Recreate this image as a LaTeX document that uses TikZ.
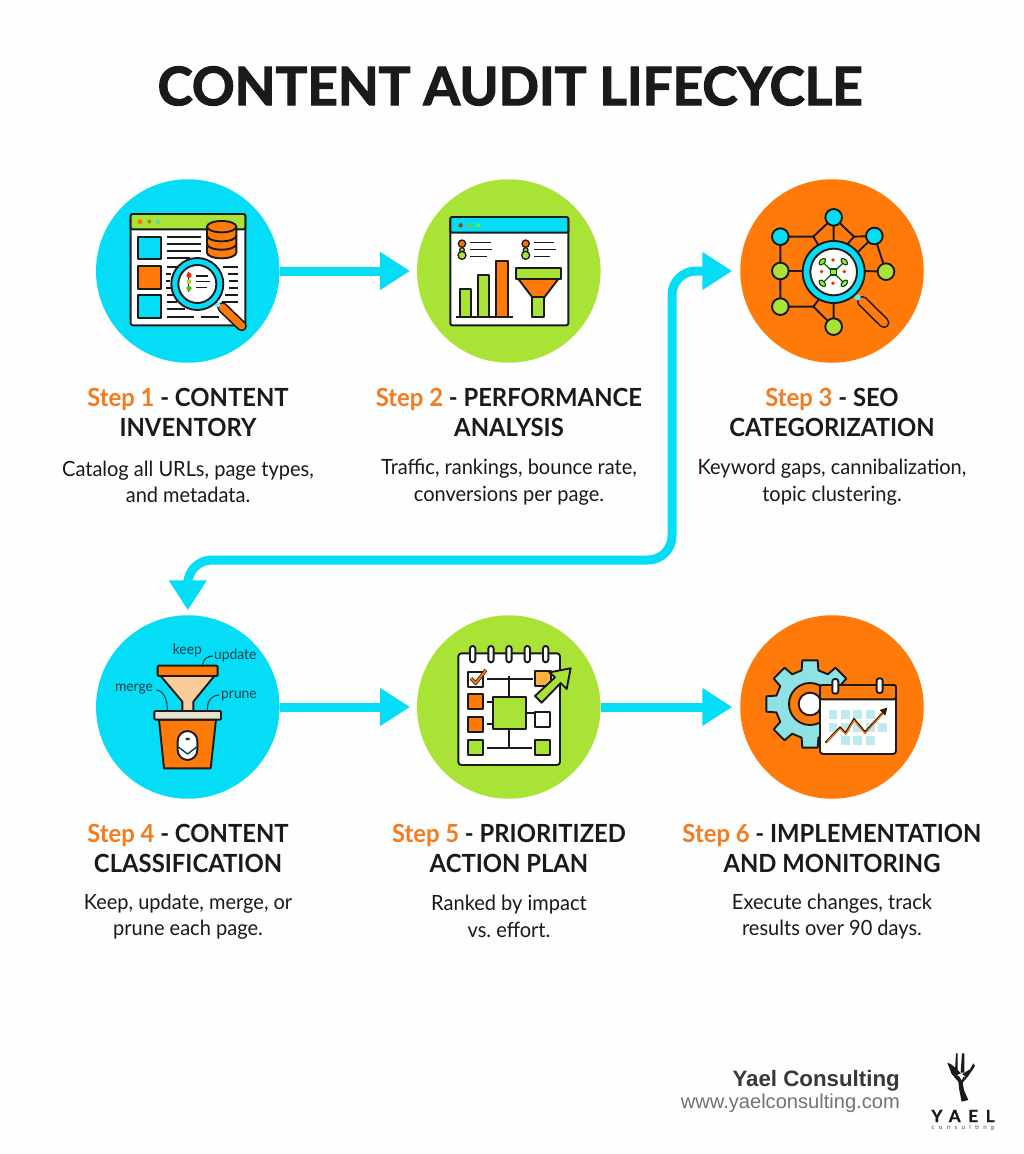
\documentclass[tikz,border=0pt]{standalone}
\usepackage{fontspec}
\usetikzlibrary{arrows.meta,calc}
\setmainfont{Lato}[FakeStretch=0.953]
\newfontfamily\titlefont{Lato}[BoldFeatures={FakeBold=2.2}]
\newfontfamily\footfont{Liberation Sans}
\newfontfamily\logofont[LetterSpace=45,BoldFeatures={FakeBold=1}]{Lato}
\newfontfamily\logosmall[LetterSpace=70]{Lato}
\definecolor{ccyan}{HTML}{05DDF7}
\definecolor{cgreen}{HTML}{A8E336}
\definecolor{corange}{HTML}{FF7A08}
\definecolor{torange}{HTML}{F47C20}
\definecolor{ink}{HTML}{1A1A1A}
\definecolor{peach}{HTML}{FBCB9C}
\definecolor{beige}{HTML}{E9E1D0}
\definecolor{teal}{HTML}{8FE2E4}
\definecolor{lteal}{HTML}{BCEBEF}
\definecolor{amber}{HTML}{FBB13C}
\definecolor{tealdark}{HTML}{0B3F4A}
\tikzset{
  disc/.style={circle,minimum size=183.5pt,inner sep=0pt,outer sep=0pt},
  flow/.style={draw=ccyan,line width=9pt,-{Triangle[length=30pt,width=36pt]}},
  headtext/.style={font=\bfseries\fontsize{25}{30}\selectfont,align=center,text=ink,inner sep=0pt},
  bodytext/.style={font=\fontsize{21}{26.5}\selectfont,align=center,text=ink,inner sep=0pt},
  icon/.style={x=0.3333pt,y=-0.3333pt,line width=1.9pt,draw=ink,line cap=butt,line join=round},
  small label/.style={font=\fontsize{14.5}{16}\selectfont,text=tealdark,inner sep=0pt},
}
\begin{document}
\begin{tikzpicture}[x=1pt,y=-1pt]
\useasboundingbox (0,0) rectangle (1024,1154);
\fill[white!99.5!black] (0,0) rectangle (1024,1154);

\node[font=\titlefont\bfseries\fontsize{53}{57}\selectfont,text=ink,inner sep=0pt] (title) at (510,86) {CONTENT AUDIT LIFECYCLE};

\coordinate (b1) at (672,271);
\coordinate (b2) at (672,560);
\coordinate (b3) at (187.8,560);

\node[disc,fill=ccyan] (c1) at (187.8,271) {};
\node[disc,fill=cgreen] (c2) at (508.8,271) {};
\node[disc,fill=corange] (c3) at (832,271) {};
\node[disc,fill=ccyan] (c4) at (187.8,707) {};
\node[disc,fill=cgreen] (c5) at (508.8,707) {};
\node[disc,fill=corange] (c6) at (832,707) {};

\draw[flow,shorten >=7pt] (c1) -- (c2);
\draw[flow,shorten >=7pt] (c4) -- (c5);
\draw[flow,shorten >=8pt] (c5) -- (c6);
\draw[draw=ccyan,line width=9pt,rounded corners=24pt,{Triangle[length=30pt,width=36pt]}-{Triangle[length=30pt,width=36pt]},shorten >=8pt,shorten <=5pt]
  (c4.north) -- (b3) -- (b2) -- (b1) -- (c3.west);

% ---------- labels
\node[headtext] (h1) at (188,412) {\textcolor{torange}{Step 1} - CONTENT\\INVENTORY};
\node[headtext] (h2) at (509,412) {\textcolor{torange}{Step 2} - PERFORMANCE\\ANALYSIS};
\node[headtext] (h3) at (832,412) {\textcolor{torange}{Step 3} - SEO\\CATEGORIZATION};
\node[bodytext] (t1) at (188,482) {Catalog all URLs, page types,\\and metadata.};
\node[bodytext] (t2) at (509,482) {Traffic, rankings, bounce rate,\\conversions per page.};
\node[bodytext] (t3) at (832,482) {Keyword gaps, cannibalization,\\topic clustering.};
\node[headtext] (h4) at (188,848) {\textcolor{torange}{Step 4} - CONTENT\\CLASSIFICATION};
\node[headtext] (h5) at (509,848) {\textcolor{torange}{Step 5} - PRIORITIZED\\ACTION PLAN};
\node[headtext] (h6) at (832,848) {\textcolor{torange}{Step 6} - IMPLEMENTATION\\AND MONITORING};
\node[bodytext] (t4) at (188,916.5) {Keep, update, merge, or\\prune each page.};
\node[bodytext] (t5) at (509,916.5) {Ranked by impact\\vs.\ effort.};
\node[bodytext] (t6) at (832,916.5) {Execute changes, track\\results over 90 days.};

% ---------- footer
\node[font=\footfont\bfseries\fontsize{22.3}{26}\selectfont,text=black!78,anchor=east,inner sep=0pt] (f1) at (900,1080.5) {Yael Consulting};
\node[font=\footfont\fontsize{20.1}{24}\selectfont,text=black!55,anchor=east,inner sep=0pt] (f2) at (900,1103) {www.yaelconsulting.com};
\node[font=\logofont\bfseries\fontsize{17}{18}\selectfont,text=ink,inner sep=0pt] (f3) at (963,1116) {YAEL};
\node[font=\logosmall\fontsize{6.2}{7}\selectfont,text=black!70,inner sep=0pt] (f4) at (963,1128) {consulting};
\begin{scope}[shift={(660,1040)},x=0.3333pt,y=-0.3333pt]
  \fill[ink] (888,40) -- (893,40) -- (893,95) -- (885,95) -- cycle;
  \fill[ink] (906,40) -- (913,40) -- (913,98) -- (902,98) -- cycle;
  \fill[ink] (862,68) -- (872,72) -- (892,88) -- (905,103) -- (930,88) -- (940,70) -- (945,78) -- (925,108) -- (908,128) -- (912,150) -- (925,180) -- (905,185) -- (898,150) -- (895,125) -- (875,102) -- cycle;
  \fill[white] (892,105) -- (904,100) -- (916,110) -- (904,125) -- cycle;
  \draw[ink,line width=1.2pt] (895,108) -- (905,125) -- (913,110);
\end{scope}

% ---------- icon 1
\begin{scope}[shift={(90,170)},icon]
  \draw[fill=white,rounded corners=2pt] (122,132) rectangle (466,466);
  \draw[fill=cgreen,rounded corners=2pt] (122,178) -- (122,132) -- (466,132) -- (466,178) -- cycle;
  \fill[corange!90!red] (150,155) circle (7);
  \fill[black!35!cgreen!70!orange] (178,155) circle (6);
  \fill[black!10!teal!80!green] (204,155) circle (7);
  \draw[fill=ccyan] (145,200) rectangle (212,268);
  \draw[fill=corange] (145,288) rectangle (212,356);
  \draw[fill=ccyan] (145,376) rectangle (212,444);
  \foreach \xa/\xb/\yy in {230/333/202,230/333/223,230/333/243,230/300/265,230/280/290,400/445/290,415/445/311,418/445/332,418/445/353,405/445/375,395/445/396,228/243/311,228/240/332,228/243/353,232/255/375,230/260/396,230/285/418,230/312/440,333/388/440}
    \draw[line width=1.7pt] (\xa,\yy) -- (\xb,\yy);
  \draw[fill=corange] (351,170) -- (351,248) arc[start angle=180,end angle=0,x radius=44,y radius=17] -- (439,170) -- cycle;
  \draw (351,197) arc[start angle=180,end angle=0,x radius=44,y radius=17];
  \draw (351,222) arc[start angle=180,end angle=0,x radius=44,y radius=17];
  \draw[fill=corange] (395,170) ellipse [x radius=44,y radius=17];
  \draw[line width=10.5pt,line cap=round] (397,412) -- (455,468);
  \draw[corange,line width=7.2pt,line cap=round] (397,412) -- (455,468);
  \fill[white!50!ccyan] (382,403) circle (9);
  \draw[fill=ccyan] (322,342) circle (78);
  \draw[fill=white] (322,342) circle (57);
  \draw[line width=1pt] (297,307) -- (297,365);
  \fill[red!70!orange] (297,316) circle (8);
  \fill[cgreen!80!orange] (297,335) circle (7);
  \fill[cgreen!60!green!80!black] (297,355) circle (8);
  \foreach \xa/\xb/\yy in {318/355/318,318/360/335,318/352/352}
    \draw[line width=1.4pt] (\xa,\yy) -- (\xb,\yy);
\end{scope}

% ---------- icon 2
\begin{scope}[shift={(405,170)},icon]
  \draw[fill=white,rounded corners=2pt] (136,141) rectangle (490,466);
  \draw[fill=ccyan,rounded corners=2pt] (136,188) -- (136,141) -- (490,141) -- (490,188) -- cycle;
  \fill[red!45!black!55!orange] (167,166) circle (6.5);
  \fill[cgreen!85!black] (194,166) circle (6.5);
  \fill[cgreen!60!green] (219,166) circle (6.5);
  \foreach \xx/\la/\lb/\lc in {171/258/262/247,362/448/452/436}{
    \draw[fill=cgreen,line width=1.3pt] (\xx,240) circle (7);
    \draw[fill=corange!85!red,line width=1.3pt] (\xx,221) circle (11);
    \draw[fill=cgreen,line width=1.3pt] (\xx,256) circle (12);
    \draw[line width=1.6pt] (\xx+25,217) -- (\la,217);
    \draw[line width=1.6pt] (\xx+25,239) -- (\lb,239);
    \draw[line width=1.6pt] (\xx+25,260) -- (\lc,260);
  }
  \draw[fill=cgreen] (166,358) rectangle (199,440);
  \draw[fill=cgreen] (219,316) rectangle (253,440);
  \draw[fill=corange] (274,274) rectangle (308,440);
  \draw (154,440) -- (325,440);
  \draw[fill=corange] (340,327) -- (460,327) -- (418,382) -- (382,382) -- cycle;
  \draw[fill=cgreen] (382,382) rectangle (418,440);
  \draw[fill=cgreen] (333,293) rectangle (467,327);
\end{scope}

% ---------- icon 3
\begin{scope}[shift={(730,170)},icon]
  \draw (311,142) -- (250,200) -- (151,200) -- (151,410) -- (250,410) -- (311,470);
  \draw (250,200) -- (265,225) (311,142) -- (311,220) (311,142) -- (372,200) -- (433,198);
  \draw (350,225) -- (372,200) (433,198) -- (385,245) (433,198) -- (468,305) -- (400,303);
  \draw (151,303) -- (220,303) (250,410) -- (265,390) (311,390) -- (311,470);
  \foreach \a/\b in {311/142,151/200,433/198}
    \draw[fill=ccyan] (\a,\b) circle (25);
  \foreach \a/\b in {151/303,468/305,151/410,311/470}
    \draw[fill=cgreen] (\a,\b) circle (25);
  \draw[line width=11pt,line cap=round] (397,394) -- (462,458);
  \draw[corange,line width=7.8pt,line cap=round] (397,394) -- (462,458);
  \fill[white!40!ccyan] (383,382) circle (9);
  \draw[fill=ccyan] (311,306) circle (93);
  \draw[fill=white] (311,306) circle (70);
  \draw[line width=1.3pt,draw=black!60!green] (277,275) -- (343,340) (343,275) -- (277,340);
  \foreach \a/\b/\r in {277/275/45,343/275/-45,277/340/-45,343/340/45}
    \draw[fill=cgreen,draw=black!70!green,line width=1.1pt,rotate around={\r:(\a,\b)}] (\a,\b) ellipse [x radius=12,y radius=7];
  \draw[fill=cgreen,draw=black!70!green,line width=1.3pt] (302,297) rectangle (320,315);
  \foreach \a/\b in {309/270,275/305,343/305,309/340}
    \fill[red!70!orange] (\a,\b) circle (5.5);
\end{scope}

% ---------- icon 4
\begin{scope}[shift={(90,605)},icon]
  \draw[fill=peach] (212,213) -- (373,213) -- (310,290) -- (310,318) -- (277,318) -- (277,290) -- cycle;
  \draw[fill=corange,rounded corners=1pt] (203,182) rectangle (383,213);
  \draw[fill=corange] (207,344) -- (378,344) -- (362,490) -- (222,490) -- cycle;
  \draw[fill=beige,rounded corners=1pt] (193,318) rectangle (393,344);
  \draw[fill=white,rounded corners=10pt] (263,378) rectangle (322,465);
  \fill[tealdark] (293,402) ellipse [x radius=7,y radius=4];
  \draw[line width=1.4pt,draw=tealdark] (265,426) -- (293,447) -- (320,426);
  \draw[line width=1.1pt,line cap=round,draw=tealdark] (338,178) .. controls (342,160) and (350,155) .. (368,153);
  \draw[line width=1.1pt,line cap=round,draw=tealdark] (200,255) .. controls (222,258) and (232,285) .. (232,315);
  \draw[line width=1.1pt,line cap=round,draw=tealdark] (352,315) .. controls (352,285) and (365,272) .. (387,270);
  \node[small label] (l1) at (292,137) {keep};
  \node[small label] (l2) at (436,151) {update};
  \node[small label] (l3) at (132,252) {merge};
  \node[small label] (l4) at (447,272) {prune};
\end{scope}

% ---------- icon 5
\begin{scope}[shift={(405,605)},icon]
  \draw[fill=white,rounded corners=3pt] (160,145) rectangle (465,480);
  \foreach \a in {203,258,312,367,422}
    \draw[fill=white,rounded corners=2.6pt] (\a-8,123) rectangle (\a+8,172);
  \draw[fill=white] (188,200) rectangle (235,245);
  \draw[line width=3.4pt,draw=ink] (198,220) -- (212,235) -- (243,195);
  \draw[line width=2pt,draw=corange!90!red] (198,220) -- (212,235) -- (243,195);
  \draw[fill=corange] (188,268) rectangle (235,313);
  \draw[fill=corange] (188,337) rectangle (235,380);
  \draw[fill=cgreen] (188,405) rectangle (235,450);
  \draw[fill=amber] (390,197) rectangle (437,243);
  \draw[fill=white] (390,322) rectangle (435,367);
  \draw[fill=cgreen] (390,405) rectangle (435,450);
  \draw (247,222) -- (383,222) (312,212) -- (312,277) (312,373) -- (312,432) (247,428) -- (380,428);
  \draw (245,290) -- (263,290) (245,358) -- (263,358) (362,325) -- (388,325);
  \draw[fill=cgreen] (263,277) rectangle (362,373);
  \draw[fill=cgreen] (497,190) -- (485,252) -- (467,234) -- (410,293) -- (390,273) -- (450,217) -- (433,202) -- cycle;
\end{scope}

% ---------- icon 6
\begin{scope}[shift={(730,605)},icon]
  \begin{scope}[shift={(240,297)}]
    \draw[fill=teal] (-14:104) \foreach \g in {0,45,...,315}{ -- ({\g-14}:104) -- ({\g-10}:133) -- ({\g+10}:133) -- ({\g+14}:104) } -- cycle;
    \draw[fill=corange] (0,0) circle (63);
    \draw[fill=white] (0,0) circle (34);
  \end{scope}
  \draw[fill=white,rounded corners=3pt] (270,240) rectangle (498,447);
  \draw[fill=corange,rounded corners=2pt] (270,283) -- (270,240) -- (498,240) -- (498,283) -- cycle;
  \foreach \a/\b in {316/244,449/242}
    \draw[fill=white,rounded corners=2.4pt] (\a-9,\b-22) rectangle (\a+9,\b+22);
  \foreach \a/\b in {296/315,333/315,370/315,408/315,296/353,333/353,370/353,408/353,445/353,333/393,370/393,408/393}
    \fill[lteal] (\a,\b) rectangle +(26,28);
  \draw[line width=2.2pt,draw=black!80!corange,line join=miter] (287,413) -- (330,368) -- (347,385) -- (372,343) -- (405,382) -- (466,316);
  \draw[line width=1pt,draw=corange] (290,411) -- (330,371) -- (347,388) -- (372,346) -- (405,385) -- (462,322);
  \fill[black!80!corange] (472,308) -- (466,332) -- (449,315) -- cycle;
\end{scope}
\end{tikzpicture}
\end{document}
